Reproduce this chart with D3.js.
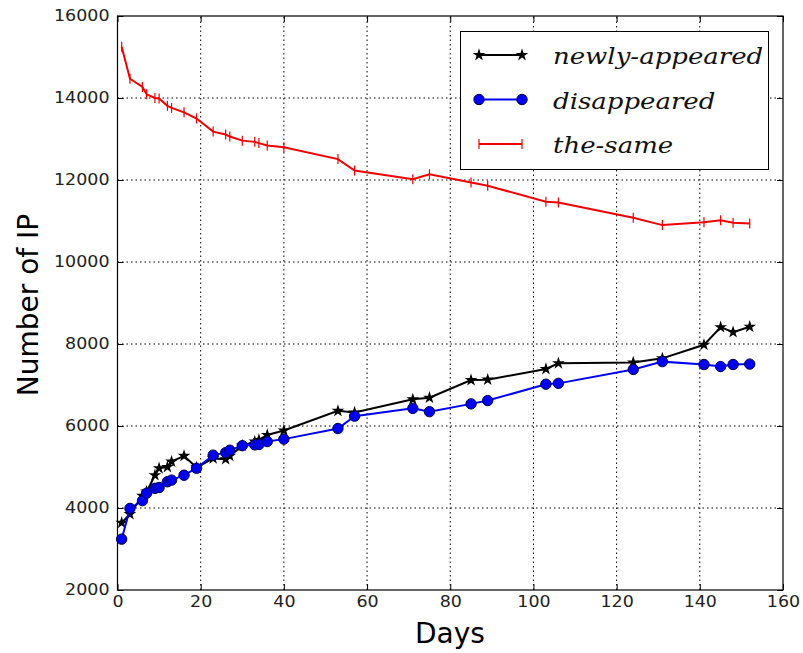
<!DOCTYPE html>
<html>
<head>
<meta charset="utf-8">
<script src="https://cdn.jsdelivr.net/npm/d3@7"></script>
<style>
  body { margin: 0; background: #fff; }
  svg { display: block; }
</style>
</head>
<body>
<div id="chart"></div>
<script>
// days of each measurement
var days = [1, 3, 6, 7, 9, 10, 12, 13, 16, 19, 23, 26, 27, 30, 33, 34, 36, 40,
            53, 57, 71, 75, 85, 89, 103, 106, 124, 131, 141, 145, 148, 152];

var newlyAppeared = [3640, 3850, 4300, 4400, 4800, 4970, 5000, 5130, 5270, 4990, 5210, 5190, 5270, 5520, 5620, 5660, 5780, 5890,
                     6370, 6330, 6650, 6690, 7120, 7130, 7390, 7530, 7550, 7650, 7980, 8410, 8290, 8420];
var disappeared = [3240, 3990, 4180, 4360, 4480, 4500, 4640, 4680, 4800, 4970, 5290, 5350, 5410, 5520, 5540, 5550, 5620, 5680,
                   5940, 6240, 6430, 6350, 6540, 6620, 7020, 7040, 7380, 7570, 7500, 7450, 7500, 7510];
var theSame = [15250, 14470, 14270, 14090, 14000, 13990, 13810, 13760, 13650, 13500, 13180, 13110, 13060, 12960, 12930, 12900, 12840, 12800,
               12510, 12230, 12020, 12140, 11940, 11860, 11470, 11450, 11080, 10900, 10970, 11020, 10960, 10940];

var xTicks = [0, 20, 40, 60, 80, 100, 120, 140, 160];
var yTicks = [2000, 4000, 6000, 8000, 10000, 12000, 14000, 16000];

var width = 803, height = 653;
var margin = {left: 117.5, right: 20, top: 16, bottom: 63};

var svg = d3.select("#chart").append("svg")
  .attr("width", width)
  .attr("height", height);

var x = d3.scaleLinear().domain([0, 160]).range([margin.left, width - margin.right]);
var y = d3.scaleLinear().domain([2000, 16000]).range([height - margin.bottom, margin.top]);

// grid
var grid = svg.append("g");
grid.selectAll(".vg").data(xTicks.slice(1, -1)).enter().append("line")
  .attr("x1", function (d) { return x(d); }).attr("x2", function (d) { return x(d); })
  .attr("y1", y(2000)).attr("y2", y(16000))
  .attr("stroke", "#000").attr("stroke-width", 1).attr("stroke-dasharray", "1.5,3");
grid.selectAll(".hg").data(yTicks.slice(1, -1)).enter().append("line")
  .attr("y1", function (d) { return y(d); }).attr("y2", function (d) { return y(d); })
  .attr("x1", x(0)).attr("x2", x(160))
  .attr("stroke", "#000").attr("stroke-width", 1).attr("stroke-dasharray", "1.5,3");

// axes, ticks pointing inward like matplotlib
var xAxis = d3.axisBottom(x).tickValues(xTicks).tickSize(-6).tickPadding(6).tickFormat(d3.format("d"));
var yAxis = d3.axisLeft(y).tickValues(yTicks).tickSize(-6).tickPadding(8).tickFormat(d3.format("d"));

svg.append("g").attr("transform", "translate(0," + y(2000) + ")").call(xAxis)
  .call(function (g) { g.select(".domain").remove(); });
svg.append("g").attr("transform", "translate(" + x(0) + ",0)").call(yAxis)
  .call(function (g) { g.select(".domain").remove(); });
// top and right ticks
svg.append("g").attr("transform", "translate(0," + y(16000) + ")")
  .call(d3.axisTop(x).tickValues(xTicks).tickSize(-6).tickFormat(""))
  .call(function (g) { g.select(".domain").remove(); });
svg.append("g").attr("transform", "translate(" + x(160) + ",0)")
  .call(d3.axisRight(y).tickValues(yTicks).tickSize(-6).tickFormat(""))
  .call(function (g) { g.select(".domain").remove(); });

// the source font is a little wider than DejaVu Sans
svg.selectAll(".tick text")
  .attr("font-family", "DejaVu Sans")
  .attr("font-size", 15.5)
  .attr("fill", "#222")
  .each(function () {
    var t = d3.select(this);
    t.attr("textLength", t.text().length * 11.1).attr("lengthAdjust", "spacingAndGlyphs");
  });
svg.selectAll(".tick line").attr("stroke", "#000");

// frame
svg.append("rect")
  .attr("x", x(0)).attr("y", y(16000))
  .attr("width", x(160) - x(0)).attr("height", y(2000) - y(16000))
  .attr("fill", "none").attr("stroke", "#000").attr("stroke-width", 1.2);

var line = d3.line()
  .x(function (d) { return x(d[0]); })
  .y(function (d) { return y(d[1]); });

var star = d3.symbol().type(d3.symbolStar).size(50);

function series(vals) {
  return days.map(function (d, i) { return [d, vals[i]]; });
}

var RED = "#f00000", BLUE = "#0000f0";

// the-same (red, vertical tick markers)
svg.append("path").datum(series(theSame)).attr("d", line)
  .attr("fill", "none").attr("stroke", RED).attr("stroke-width", 2);
svg.selectAll(".redm").data(series(theSame)).enter().append("line")
  .attr("x1", function (d) { return x(d[0]); }).attr("x2", function (d) { return x(d[0]); })
  .attr("y1", function (d) { return y(d[1]) - 5; }).attr("y2", function (d) { return y(d[1]) + 5; })
  .attr("stroke", RED).attr("stroke-width", 1.2);

// newly-appeared (black, stars)
svg.append("path").datum(series(newlyAppeared)).attr("d", line)
  .attr("fill", "none").attr("stroke", "#000").attr("stroke-width", 2);
svg.selectAll(".star").data(series(newlyAppeared)).enter().append("path")
  .attr("d", star)
  .attr("transform", function (d) { return "translate(" + x(d[0]) + "," + y(d[1]) + ")"; })
  .attr("fill", "#000");

// disappeared (blue, circles)
svg.append("path").datum(series(disappeared)).attr("d", line)
  .attr("fill", "none").attr("stroke", BLUE).attr("stroke-width", 2);
svg.selectAll(".dot").data(series(disappeared)).enter().append("circle")
  .attr("cx", function (d) { return x(d[0]); })
  .attr("cy", function (d) { return y(d[1]); })
  .attr("r", 5.2)
  .attr("fill", BLUE).attr("stroke", "#000050").attr("stroke-width", 1);

// axis labels
svg.append("text")
  .attr("x", 450).attr("y", 643)
  .attr("text-anchor", "middle")
  .attr("font-family", "DejaVu Sans").attr("font-size", 28)
  .text("Days");
svg.append("text")
  .attr("transform", "translate(38,305) rotate(-90)")
  .attr("text-anchor", "middle")
  .attr("font-family", "DejaVu Sans").attr("font-size", 28)
  .text("Number of IP");

// legend
var legendItems = [
  {name: "newly-appeared", color: "#000", marker: "star"},
  {name: "disappeared", color: BLUE, marker: "circle"},
  {name: "the-same", color: RED, marker: "tick"}
];
var lg = svg.append("g");
lg.append("rect")
  .attr("x", 460.5).attr("y", 31.5).attr("width", 308).attr("height", 138)
  .attr("fill", "#fff").attr("stroke", "#000").attr("stroke-width", 1);
legendItems.forEach(function (it, i) {
  var cy = 55 + i * 44.5;
  lg.append("line").attr("x1", 479).attr("x2", 522).attr("y1", cy).attr("y2", cy)
    .attr("stroke", it.color).attr("stroke-width", 2);
  [479, 522].forEach(function (px) {
    if (it.marker === "star") {
      lg.append("path").attr("d", star).attr("transform", "translate(" + px + "," + cy + ")").attr("fill", "#000");
    } else if (it.marker === "circle") {
      lg.append("circle").attr("cx", px).attr("cy", cy).attr("r", 5.2)
        .attr("fill", BLUE).attr("stroke", "#000050");
    } else {
      lg.append("line").attr("x1", px).attr("x2", px).attr("y1", cy - 5).attr("y2", cy + 5)
        .attr("stroke", it.color).attr("stroke-width", 1.2);
    }
  });
  // math-italic look: serif italic, widened a bit
  var t = lg.append("text").attr("x", 553).attr("y", cy + 9)
    .attr("font-family", "DejaVu Serif").attr("font-style", "italic").attr("font-size", 23)
    .attr("fill", "#111")
    .text(it.name);
  var w = t.node().getComputedTextLength();
  t.attr("textLength", w * 1.13).attr("lengthAdjust", "spacingAndGlyphs");
});
</script>
</body>
</html>
